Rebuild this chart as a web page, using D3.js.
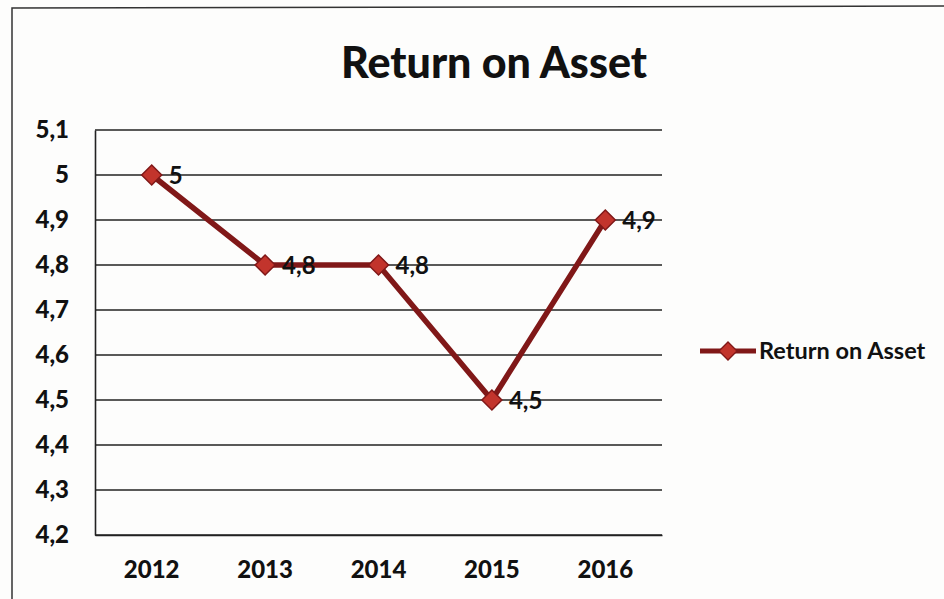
<!DOCTYPE html>
<html><head><meta charset="utf-8">
<script src="https://cdn.jsdelivr.net/npm/d3@7"></script>
<style>body{margin:0;background:#fff;} svg{display:block;}</style>
</head><body>
<svg id="c" width="944" height="599"></svg>
<script>
const years = ["2012","2013","2014","2015","2016"];
const roaValues = [5, 4.8, 4.8, 4.5, 4.9];
const yTicks = [4.2,4.3,4.4,4.5,4.6,4.7,4.8,4.9,5.0,5.1];
const seriesName = "Return on Asset";
const titleText = "Return on Asset";

const svg = d3.select("#c");
const W = 944, H = 599;
svg.append("rect").attr("width",W).attr("height",H).attr("fill","#fdfdfc");
svg.append("path").attr("d","M12,599 L12,8 L944,6").attr("fill","none").attr("stroke","#333").attr("stroke-width",1.5);

const m = {left:95, right:662, top:130, bottom:535};
const x = d3.scaleBand().domain(years).range([m.left,m.right]);
const y = d3.scaleLinear().domain([4.2,5.1]).range([m.bottom,m.top]);
const fmt = v => d3.format(".1f")(v).replace(".",",").replace(",0","");
const font = "Lato, 'Open Sans', sans-serif";

svg.append("g").selectAll("line").data(yTicks).join("line")
  .attr("x1",m.left).attr("x2",m.right)
  .attr("y1",d=>y(d)).attr("y2",d=>y(d))
  .attr("stroke","#222").attr("stroke-width",1.6);

const ya = svg.append("g").attr("transform",`translate(${m.left},0)`)
  .call(d3.axisLeft(y).tickValues(yTicks).tickSize(0).tickPadding(26).tickFormat(fmt));
ya.select(".domain").attr("stroke","#222").attr("stroke-width",1.6);
ya.selectAll("text").attr("font-family",font).attr("font-weight","900").attr("font-size",24).attr("fill","#111");

const xa = svg.append("g").attr("transform",`translate(0,${m.bottom})`)
  .call(d3.axisBottom(x).tickSize(0).tickPadding(26));
xa.select(".domain").attr("stroke","#222").attr("stroke-width",1.6);
xa.selectAll("text").attr("font-family",font).attr("font-weight","900").attr("font-size",24).attr("fill","#111");

svg.append("text").attr("x",494).attr("y",78).attr("text-anchor","middle")
  .attr("font-family",font).attr("font-weight","900").attr("font-size",43).attr("fill","#111")
  .text(titleText);

const lineColor = "#801818", markerFill = "#c2342c";
const cx = d => x(d) + x.bandwidth()/2;
const data = years.map((yr,i)=>({yr, v:roaValues[i]}));

svg.append("path").datum(data)
  .attr("d", d3.line().x(d=>cx(d.yr)).y(d=>y(d.v)))
  .attr("fill","none").attr("stroke",lineColor).attr("stroke-width",5.5).attr("stroke-linejoin","round");

const diamond = "M0,-10L10,0L0,10L-10,0Z";
svg.append("g").selectAll("path").data(data).join("path")
  .attr("d", diamond).attr("transform", d=>`translate(${cx(d.yr)},${y(d.v)})`)
  .attr("fill",markerFill).attr("stroke",lineColor).attr("stroke-width",1.5);

svg.append("g").selectAll("text").data(data).join("text")
  .attr("x", d=>cx(d.yr)+17).attr("y", d=>y(d.v)+9)
  .attr("font-family",font).attr("font-size",24).attr("font-weight","bold").attr("fill","#111")
  .text(d=>fmt(d.v));

const ly = 351;
svg.append("line").attr("x1",700).attr("x2",756).attr("y1",ly).attr("y2",ly)
  .attr("stroke",lineColor).attr("stroke-width",5);
svg.append("path").attr("d",diamond).attr("transform",`translate(728,${ly}) scale(0.9)`)
  .attr("fill",markerFill).attr("stroke",lineColor).attr("stroke-width",1.5);
svg.append("text").attr("x",759).attr("y",ly+8).attr("font-family",font)
  .attr("font-size",23.5).attr("font-weight","bold").attr("fill","#111").text(seriesName);
</script>
</body></html>
